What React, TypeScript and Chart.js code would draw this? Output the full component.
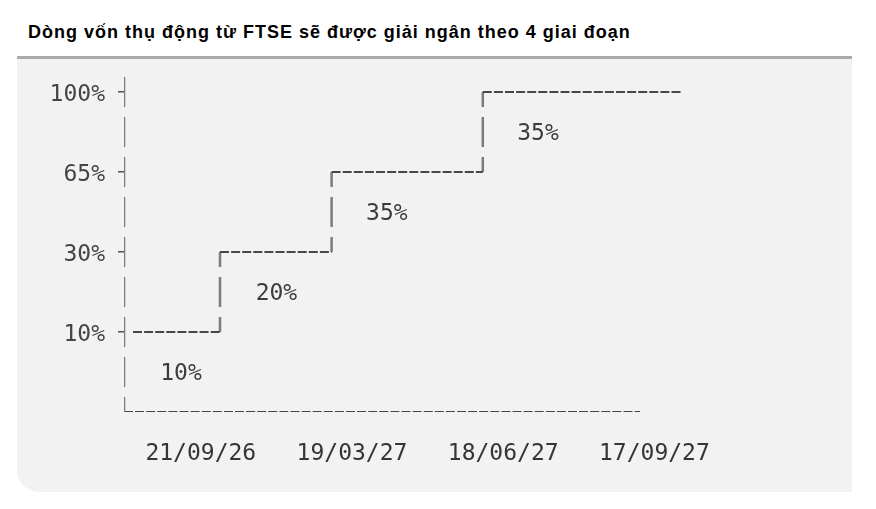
import React, { useEffect, useRef } from "react";
import { Chart, registerables } from "chart.js";

Chart.register(...registerables);

const TITLE = "Dòng vốn thụ động từ FTSE sẽ được giải ngân theo 4 giai đoạn";

// cumulative disbursement levels (y tick labels, in %)
const cumulativeLevels = [10, 30, 65, 100];
// share disbursed in each stage (%)
const trancheShares = [10, 20, 35, 35];
// disbursement dates (x tick labels)
const dateLabels = ["21/09/26", "19/03/27", "18/06/27", "17/09/27"];
// x positions (text-column units)
const datePositions = [6.4, 19, 31.6, 44.2];
const stepX = [0.75, 8, 17.3, 29.9, 46.5];
const shareLabelX = [4.75, 12.7, 21.9, 34.5];
const baselineEnd = 43;
const Y_MAX = 4.1875;

const MONO = '"DejaVu Sans Mono", "Liberation Mono", monospace';

export default function App() {
  const canvasRef = useRef<HTMLCanvasElement | null>(null);

  useEffect(() => {
    const canvas = canvasRef.current;
    if (!canvas) return;

    const treads: { x: number; y: number | null }[] = [];
    for (let i = 0; i < cumulativeLevels.length; i++) {
      treads.push({ x: stepX[i], y: i + 1 });
      treads.push({ x: stepX[i + 1], y: i + 1 });
      treads.push({ x: stepX[i + 1], y: null });
    }
    const risers: { x: number; y: number | null }[] = [];
    for (let i = 1; i < cumulativeLevels.length; i++) {
      risers.push({ x: stepX[i], y: i });
      risers.push({ x: stepX[i], y: i + 1 });
      risers.push({ x: stepX[i], y: null });
    }
    const baseline = [
      { x: 0, y: 0 },
      { x: baselineEnd, y: 0 },
    ];
    const yAxisLine = [
      { x: 0, y: Y_MAX },
      { x: 0, y: 0 },
    ];

    const shareLabelsPlugin = {
      id: "shareLabels",
      afterDatasetsDraw(chart: any) {
        const { ctx, scales } = chart;
        const xs = scales.x;
        const ys = scales.y;
        ctx.save();
        ctx.font = `23px ${MONO}`;
        ctx.fillStyle = "#3c3c3c";
        ctx.textAlign = "center";
        ctx.textBaseline = "middle";
        trancheShares.forEach((s, i) => {
          ctx.fillText(
            `${s}%`,
            xs.getPixelForValue(shareLabelX[i]),
            ys.getPixelForValue(i + 0.5) + 2
          );
        });
        ctx.restore();
      },
    };

    const lineBase = { pointRadius: 0, tension: 0, spanGaps: false };

    const chart = new Chart(canvas, {
      type: "line",
      data: {
        datasets: [
          {
            label: "yAxis",
            data: yAxisLine as any,
            borderColor: "#7c7c7c",
            borderWidth: 2.5,
            borderDash: [30, 10],
            borderDashOffset: 0,
            ...lineBase,
          },
          {
            label: "treads",
            data: treads as any,
            borderColor: "#474747",
            borderWidth: 1.8,
            borderDash: [9, 2.1],
            ...lineBase,
          },
          {
            label: "risers",
            data: risers as any,
            borderColor: "#7c7c7c",
            borderWidth: 2.5,
            borderDash: [30, 10],
            borderDashOffset: 15,
            ...lineBase,
          },
          {
            label: "baseline",
            data: baseline as any,
            borderColor: "#474747",
            borderWidth: 1.8,
            borderDash: [9, 2.1],
            ...lineBase,
          },
        ],
      },
      options: {
        animation: false,
        responsive: false,
        maintainAspectRatio: false,
        layout: { padding: { top: 77, right: 32, bottom: 0, left: 0 } },
        plugins: {
          legend: { display: false },
          tooltip: { enabled: false },
        },
        scales: {
          x: {
            type: "linear",
            min: 0,
            max: 60,
            grid: { display: false, drawTicks: false },
            border: { display: false },
            afterBuildTicks: (s: any) => {
              s.ticks = datePositions.map((v) => ({ value: v }));
            },
            afterFit: (s: any) => {
              s.height = 97;
            },
            ticks: {
              autoSkip: false,
              maxRotation: 0,
              minRotation: 0,
              padding: 28,
              color: "#353535",
              font: { family: MONO, size: 23 },
              callback: (_v: any, i: number) => dateLabels[i],
            },
          },
          y: {
            type: "linear",
            min: 0,
            max: Y_MAX,
            afterBuildTicks: (s: any) => {
              s.ticks = cumulativeLevels.map((_, i) => ({ value: i + 1 }));
            },
            afterFit: (s: any) => {
              s.width = 124;
            },
            grid: {
              drawOnChartArea: false,
              drawTicks: true,
              tickLength: 6,
              color: "#555555",
              lineWidth: 1.5,
            },
            border: { display: false },
            ticks: {
              padding: 13,
              labelOffset: 3,
              color: "#444444",
              font: { family: MONO, size: 23 },
              callback: (_v: any, i: number) => `${cumulativeLevels[i]}%`,
            },
          },
        },
      },
      plugins: [shareLabelsPlugin],
    });

    return () => {
      chart.destroy();
    };
  }, []);

  return (
    <div
      style={{
        position: "absolute",
        left: 0,
        top: 0,
        width: 876,
        height: 509,
        overflow: "hidden",
        background: "#ffffff",
      }}
    >
      <div
        style={{
          position: "absolute",
          left: 28,
          top: 22.5,
          fontFamily: '"Liberation Sans", Arial, sans-serif',
          fontWeight: 700,
          fontSize: 18,
          letterSpacing: "1px",
          lineHeight: "18px",
          color: "#000",
          whiteSpace: "nowrap",
        }}
      >
        {TITLE}
      </div>
      <div
        style={{
          position: "absolute",
          left: 17,
          top: 56,
          width: 835,
          height: 436,
          boxSizing: "border-box",
          background: "#f2f2f2",
          borderTop: "3px solid #ababab",
          borderBottomLeftRadius: 22,
        }}
      />
      <canvas
        ref={canvasRef}
        width={876}
        height={509}
        style={{ position: "absolute", left: 0, top: 0, width: 876, height: 509 }}
      />
    </div>
  );
}
